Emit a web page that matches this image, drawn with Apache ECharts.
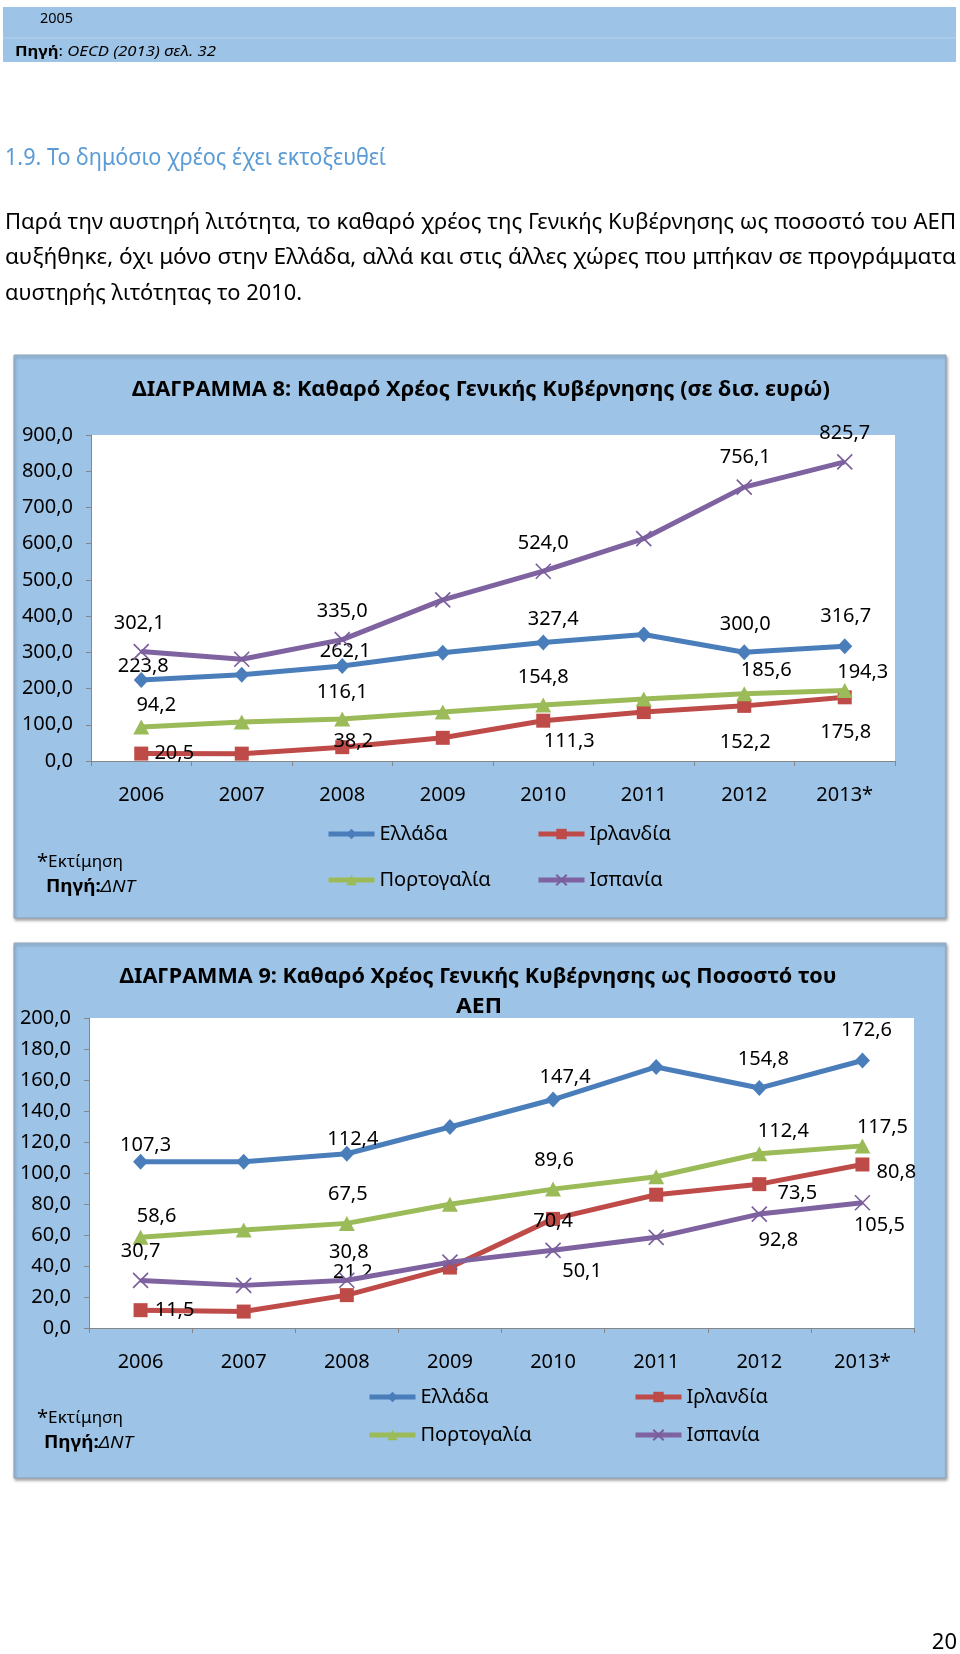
<!DOCTYPE html>
<html>
<head>
<meta charset="utf-8">
<script src="https://cdn.jsdelivr.net/npm/echarts@6/dist/echarts.min.js"></script>
<style>
html,body{margin:0;padding:0;background:#fff;}
#c{width:960px;height:1654px;}
</style>
</head>
<body>
<div id="c"></div>
<script>
// ---------- DATA ----------
const years = ['2006', '2007', '2008', '2009', '2010', '2011', '2012', '2013*'];
const countries = ['Ελλάδα', 'Ιρλανδία', 'Πορτογαλία', 'Ισπανία'];

// Chart 8: net general government debt (bn euro)
const debtGreece   = [223.8, 238.0, 262.1, 299.0, 327.4, 349.0, 300.0, 316.7];
const debtIreland  = [20.5, 20.3, 38.2, 64.0, 111.3, 135.0, 152.2, 175.8];
const debtPortugal = [94.2, 108.0, 116.1, 135.0, 154.8, 171.0, 185.6, 194.3];
const debtSpain    = [302.1, 281.0, 335.0, 445.0, 524.0, 614.0, 756.1, 825.7];

// Chart 9: net general government debt (% of GDP)
const gdpGreece   = [107.3, 107.3, 112.4, 129.7, 147.4, 168.4, 154.8, 172.6];
const gdpIreland  = [11.5, 10.6, 21.2, 39.0, 70.4, 86.0, 92.8, 105.5];
const gdpPortugal = [58.6, 63.2, 67.5, 79.8, 89.6, 97.6, 112.4, 117.5];
const gdpSpain    = [30.7, 27.5, 30.8, 42.5, 50.1, 58.5, 73.5, 80.8];

// axis ranges
const axis1 = {min: 0, max: 900, interval: 100};
const axis2 = {min: 0, max: 200, interval: 20};

// ---------- LAYOUT / STYLE (not data) ----------
// data-label offsets relative to the point, for labelled years only
const labelOffsets1 = [
  {0: [2, -14], 2: [3, -15], 4: [10, -23], 6: [1, -28], 7: [1, -30]},
  {0: [33, 0], 2: [11, -6], 4: [26, 21], 6: [1, 36], 7: [1, 35]},
  {0: [15, -22], 2: [0, -27], 4: [0, -28], 6: [22, -23], 7: [18, -18]},
  {0: [-2, -28], 2: [0, -28], 4: [0, -28], 6: [1, -30], 7: [0, -29]}
];
const labelOffsets2 = [
  {0: [5, -16], 2: [6, -14], 4: [12, -22], 6: [4, -29], 7: [4, -30]},
  {0: [34, 0], 2: [6, -23], 4: [0, 2], 6: [19, 56], 7: [17, 61]},
  {0: [16, -21], 2: [1, -29], 4: [1, -29], 6: [24, -22], 7: [20, -19]},
  {0: [0, -29], 2: [2, -28], 4: [29, 21], 6: [38, -21], 7: [34, -30]}
];
const colors = ['#4A7EBB', '#BE4B48', '#9BBB59', '#7F63A1'];
const symbols = ['diamond', 'rect', 'triangle', 'path://M0,0L10,10M10,0L0,10'];
const symbolSizes = [[15, 16], 14, [16, 15], 15];
const FF = '"Noto Sans", "Open Sans", sans-serif';
const BOX = '#9DC3E6';

const fmt = v => Number(v).toFixed(1).replace('.', ',');

// text measuring to fit widths of the scanned Calibri text
const mctx = document.createElement('canvas').getContext('2d');
function textW(parts) {
  let w = 0;
  for (const [t, f] of parts) { mctx.font = f; w += mctx.measureText(t).width; }
  return w;
}
const ff = '"Noto Sans"';

function makeSeries(name, values, idx, ci, offsets) {
  return {
    type: 'line',
    name: name,
    xAxisIndex: idx,
    yAxisIndex: idx,
    symbol: symbols[ci],
    symbolSize: symbolSizes[ci],
    symbolKeepAspect: true,
    lineStyle: {width: 5, color: colors[ci]},
    itemStyle: ci === 3
      ? {color: colors[ci], borderColor: '#7A5E9C', borderWidth: 1.6}
      : {color: colors[ci]},
    emphasis: {disabled: true},
    label: {
      show: false, position: 'inside', fontSize: 20, fontFamily: FF, color: '#000',
      formatter: p => fmt(p.value)
    },
    data: values.map((v, i) => offsets[i]
      ? {value: v, label: {show: true, offset: offsets[i]}}
      : {value: v}),
    z: 2 + ci
  };
}

const set1 = [debtGreece, debtIreland, debtPortugal, debtSpain];
const set2 = [gdpGreece, gdpIreland, gdpPortugal, gdpSpain];
const series = [];
set1.forEach((vals, ci) => series.push(makeSeries(countries[ci], vals, 0, ci, labelOffsets1[ci])));
set2.forEach((vals, ci) => series.push(makeSeries(countries[ci], vals, 1, ci, labelOffsets2[ci])));

function xAxis(gi) {
  return {
    type: 'category', gridIndex: gi, data: years, boundaryGap: true,
    axisLine: {lineStyle: {color: '#868686', width: 1}},
    axisTick: {show: true, length: 5, lineStyle: {color: '#868686'}},
    axisLabel: {fontSize: 20, fontFamily: FF, color: '#000', margin: 24, interval: 0}
  };
}
function yAxis(gi, r) {
  return {
    type: 'value', gridIndex: gi, min: r.min, max: r.max, interval: r.interval,
    splitLine: {show: false},
    axisLine: {show: true, lineStyle: {color: '#868686', width: 1}},
    axisTick: {show: true, length: 5, lineStyle: {color: '#868686'}},
    axisLabel: {fontSize: 20, fontFamily: FF, color: '#000', margin: 18, formatter: v => fmt(v)}
  };
}

function legendAt(name, left, cy) {
  return {
    data: [name], left: left, top: cy - 10, orient: 'horizontal', padding: 0,
    itemWidth: 46, itemHeight: 13, itemGap: 0, selectedMode: false,
    lineStyle: {width: 5},
    textStyle: {fontSize: 20, fontFamily: FF, color: '#000', lineHeight: 20}
  };
}

// fitted text helper
function fitText(opt) {
  const parts = opt.parts || [[opt.text, (opt.style || 'normal') + ' ' + (opt.weight || 'normal') + ' ' + opt.size + 'px ' + ff]];
  const w = textW(parts);
  const s = opt.width ? opt.width / w : 1;
  const el = {
    type: 'text', x: opt.x, y: opt.y, scaleX: s, z: 100,
    style: {
      text: opt.text, fontSize: opt.size, fontFamily: FF,
      fontWeight: opt.weight || 'normal', fontStyle: opt.style || 'normal',
      fill: opt.color || '#000', align: opt.align || 'left', verticalAlign: 'middle'
    }
  };
  if (opt.rich) el.style.rich = opt.rich;
  return el;
}

const graphic = [
  // header band
  {type: 'rect', shape: {x: 3, y: 7, width: 953, height: 55}, style: {fill: BOX}, z: -5},
  {type: 'line', shape: {x1: 3, y1: 38, x2: 956, y2: 38}, style: {stroke: 'rgba(255,255,255,0.25)', lineWidth: 1}, z: -4},
  fitText({text: '2005', x: 40, y: 19, size: 15, width: 33}),
  fitText({
    text: '{b|Πηγή}{n|:}{i| OECD (2013) σελ. 32}', x: 15, y: 52, size: 15, width: 201,
    parts: [['Πηγή', 'bold 15px ' + ff], [':', '15px ' + ff], [' OECD (2013) σελ. 32', 'italic 15px ' + ff]],
    rich: {
      b: {fontWeight: 'bold', fontSize: 15, fontFamily: FF, fill: '#000'},
      n: {fontSize: 15, fontFamily: FF, fill: '#000'},
      i: {fontStyle: 'italic', fontSize: 15, fontFamily: FF, fill: '#000'}
    }
  }),
  // heading and paragraph
  fitText({text: '1.9. Το δημόσιο χρέος έχει εκτοξευθεί', x: 5, y: 158, size: 23, width: 381, color: '#5B9BD5'}),
  fitText({text: 'Παρά την αυστηρή λιτότητα, το καθαρό χρέος της Γενικής Κυβέρνησης ως ποσοστό του ΑΕΠ', x: 5, y: 223, size: 22, width: 951}),
  fitText({text: 'αυξήθηκε, όχι μόνο στην Ελλάδα, αλλά και στις άλλες χώρες που μπήκαν σε προγράμματα', x: 5, y: 258, size: 22, width: 951}),
  fitText({text: 'αυστηρής λιτότητας το 2010.', x: 5, y: 294, size: 22, width: 297}),

  // chart boxes
  {type: 'rect', shape: {x: 14, y: 355, width: 932, height: 563},
   style: {fill: BOX, stroke: '#8FA3B8', lineWidth: 1, shadowBlur: 3, shadowOffsetX: 1, shadowOffsetY: 2, shadowColor: 'rgba(0,0,0,0.35)'}, z: -5},
  {type: 'rect', shape: {x: 14, y: 943, width: 932, height: 535},
   style: {fill: BOX, stroke: '#8FA3B8', lineWidth: 1, shadowBlur: 3, shadowOffsetX: 1, shadowOffsetY: 2, shadowColor: 'rgba(0,0,0,0.35)'}, z: -5},

  // chart titles
  fitText({text: 'ΔΙΑΓΡΑΜΜΑ 8: Καθαρό Χρέος Γενικής Κυβέρνησης (σε δισ. ευρώ)', x: 481, y: 390, size: 21, weight: 'bold', width: 698, align: 'center'}),
  fitText({text: 'ΔΙΑΓΡΑΜΜΑ 9: Καθαρό Χρέος Γενικής Κυβέρνησης ως Ποσοστό του', x: 478, y: 977, size: 21, weight: 'bold', width: 717, align: 'center'}),
  fitText({text: 'ΑΕΠ', x: 479, y: 1007, size: 21, weight: 'bold', width: 46, align: 'center'}),
];

function notes(y1, y2, xs) {
  return [
    fitText({
      text: '{a|*}{b|Εκτίμηση}', x: 37, y: y1, size: 17, width: 86,
      parts: [['*', '20px ' + ff], ['Εκτίμηση', '17px ' + ff]],
      rich: {a: {fontSize: 20, fontFamily: FF, fill: '#000', verticalAlign: 'top'}, b: {fontSize: 17, fontFamily: FF, fill: '#000'}}
    }),
    fitText({
      text: '{b|Πηγή:}{i|ΔΝΤ}', x: xs, y: y2, size: 17, width: 89,
      parts: [['Πηγή:', 'bold 17px ' + ff], ['ΔΝΤ', 'italic 17px ' + ff]],
      rich: {b: {fontWeight: 'bold', fontSize: 17, fontFamily: FF, fill: '#000'}, i: {fontStyle: 'italic', fontSize: 17, fontFamily: FF, fill: '#000'}}
    })
  ];
}
graphic.push(...notes(862, 887, 46));
graphic.push(...notes(1418, 1443, 44));
graphic.push(fitText({text: '20', x: 957, y: 1643, size: 22, align: 'right'}));

const option = {
  animation: false,
  backgroundColor: '#fff',
  textStyle: {fontFamily: FF},
  grid: [
    {left: 91, top: 435, width: 804, height: 326, show: true, backgroundColor: '#fff', borderWidth: 0, containLabel: false},
    {left: 89, top: 1018, width: 825, height: 310, show: true, backgroundColor: '#fff', borderWidth: 0, containLabel: false}
  ],
  xAxis: [xAxis(0), xAxis(1)],
  yAxis: [yAxis(0, axis1), yAxis(1, axis2)],
  legend: [
    legendAt(countries[0], 326, 834), legendAt(countries[1], 536, 834),
    legendAt(countries[2], 326, 880), legendAt(countries[3], 536, 880),
    legendAt(countries[0], 367, 1397), legendAt(countries[1], 633, 1397),
    legendAt(countries[2], 367, 1435), legendAt(countries[3], 633, 1435)
  ],
  graphic: graphic,
  series: series
};

const chart = echarts.init(document.getElementById('c'), null, {renderer: 'canvas'});
chart.setOption(option);
</script>
</body>
</html>
